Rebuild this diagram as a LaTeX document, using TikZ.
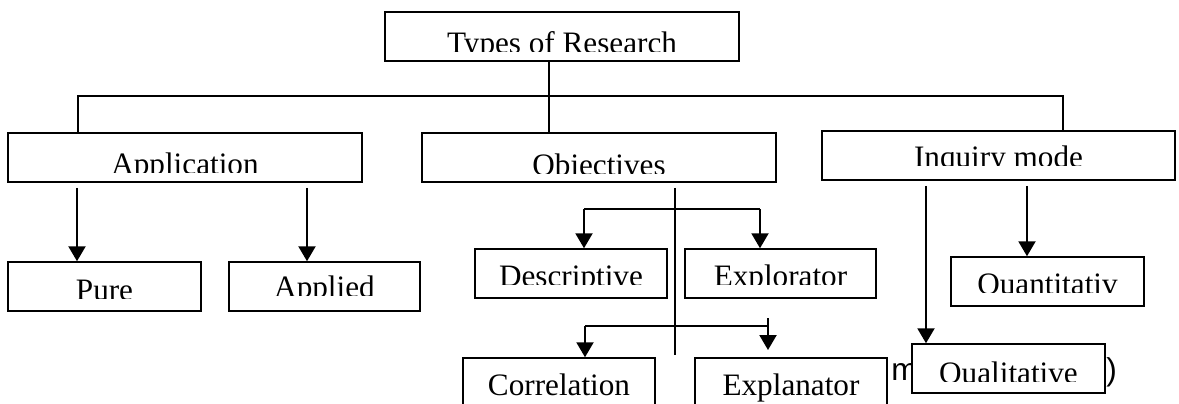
\documentclass[tikz,border=0pt]{standalone}
\usepackage{fontspec}
\setmainfont{Liberation Serif}
\newfontfamily\arialfont{Liberation Sans}
\usetikzlibrary{arrows.meta}

\tikzset{
  box/.style={draw, line width=0.75pt, fill=white, inner sep=0pt, minimum height=24.5pt},
  lbl/.style={font=\fontsize{15.6}{18}\selectfont, inner sep=0pt},
  link/.style={line width=0.65pt},
  arr/.style={line width=1.1pt, -{Triangle[width=8.5pt,length=7.5pt]}},
}

% text sits low in its box, the part below the baseline is cut off
\newcommand{\boxtext}[3]{%
  \begin{scope}
    \clip (#1.north west) rectangle ([yshift=-#2+1pt]#1.north east);
    \node[lbl, anchor=base] at ([yshift=-#2]#1.north) {#3};
  \end{scope}}

\begin{document}
\begin{tikzpicture}[x=0.5pt,y=-0.5pt]
\useasboundingbox (0,0) rectangle (1179,403);
\clip (0,0) rectangle (1179,403);

\node[font=\arialfont\fontsize{15.8}{18}\selectfont, inner sep=0pt, anchor=base west] (mm) at (891,380) {m};
\node[font=\arialfont\fontsize{15.8}{18}\selectfont, inner sep=0pt, anchor=base west] (paren) at (1106,380) {)};

\node[box, minimum width=177pt] (root) at (562,36.5) {};
\node[box, minimum width=177pt] (app) at (185,157.5) {};
\node[box, minimum width=177pt] (obj) at (599,157.5) {};
\node[box, minimum width=176.5pt] (inq) at (998.5,155.5) {};
\node[box, minimum width=96.5pt] (pure) at (104.5,286.5) {};
\node[box, minimum width=95.5pt] (applied) at (324.5,286.5) {};
\node[box, minimum width=96pt] (desc) at (571,273.5) {};
\node[box, minimum width=95.5pt] (explor) at (780.5,273.5) {};
\node[box, minimum width=96.5pt] (quant) at (1047.5,281.5) {};
\node[box, minimum width=96.5pt] (qual) at (1008.5,368.5) {};
\node[box, minimum width=96pt] (corr) at (559,382.5) {};
\node[box, minimum width=96pt] (explan) at (791,382.5) {};

\boxtext{root}{21pt}{Types of Research}
\boxtext{app}{21.2pt}{Application}
\boxtext{obj}{21.5pt}{Objectives}
\boxtext{inq}{18.7pt}{Inquiry mode}
\boxtext{pure}{19.8pt}{Pure}
\boxtext{applied}{18pt}{Applied}
\boxtext{desc}{19pt}{Descriptive}
\boxtext{explor}{19pt}{Explorator}
\boxtext{quant}{19.3pt}{Quantitativ}
\boxtext{qual}{20pt}{Qualitative}
\node[lbl, anchor=base] (corrtext) at ([yshift=-19pt]corr.north) {Correlation};
\node[lbl, anchor=base] (explantext) at ([yshift=-19pt]explan.north) {Explanator};

\coordinate (xs) at (549,0);
\coordinate (bus) at (549,96);
\coordinate (xl) at (78,0);
\coordinate (xr) at (1063,0);
\draw[link] (root.south -| xs) -- (obj.north -| xs);
\draw[link] (app.north -| xl) |- (bus) -| (inq.north -| xr);

\coordinate (xa1) at (77,0);
\coordinate (xa2) at (307,0);
\draw[arr, shorten <=2.5pt] (app.south -| xa1) -- (pure.north -| xa1);
\draw[arr, shorten <=2.5pt] (app.south -| xa2) -- (applied.north -| xa2);

\coordinate (xo) at (675,0);
\coordinate (objend) at (675,355);
\draw[link] (obj.south -| xo) ++(0,5) -- (objend);
\coordinate (d1) at (584,209);
\coordinate (d2) at (760,209);
\draw[link, line width=0.8pt] (d1) -- (d2);
\draw[arr] (d1) -- (desc.north -| d1);
\draw[arr] (d2) -- (explor.north -| d2);
\coordinate (c1) at (585,326);
\coordinate (c2) at (768,326);
\draw[link, line width=0.8pt] (c1) -- (c2);
\draw[arr] (c1) -- (corr.north -| c1);
\draw[arr] (c2) ++(0,-8) -- ++(0,32);

\coordinate (xq1) at (926,0);
\coordinate (xq2) at (1027,0);
\draw[arr, shorten <=2.5pt] (inq.south -| xq1) -- (qual.north -| xq1);
\draw[arr, shorten <=2.5pt] (inq.south -| xq2) -- (quant.north -| xq2);
\end{tikzpicture}
\end{document}
